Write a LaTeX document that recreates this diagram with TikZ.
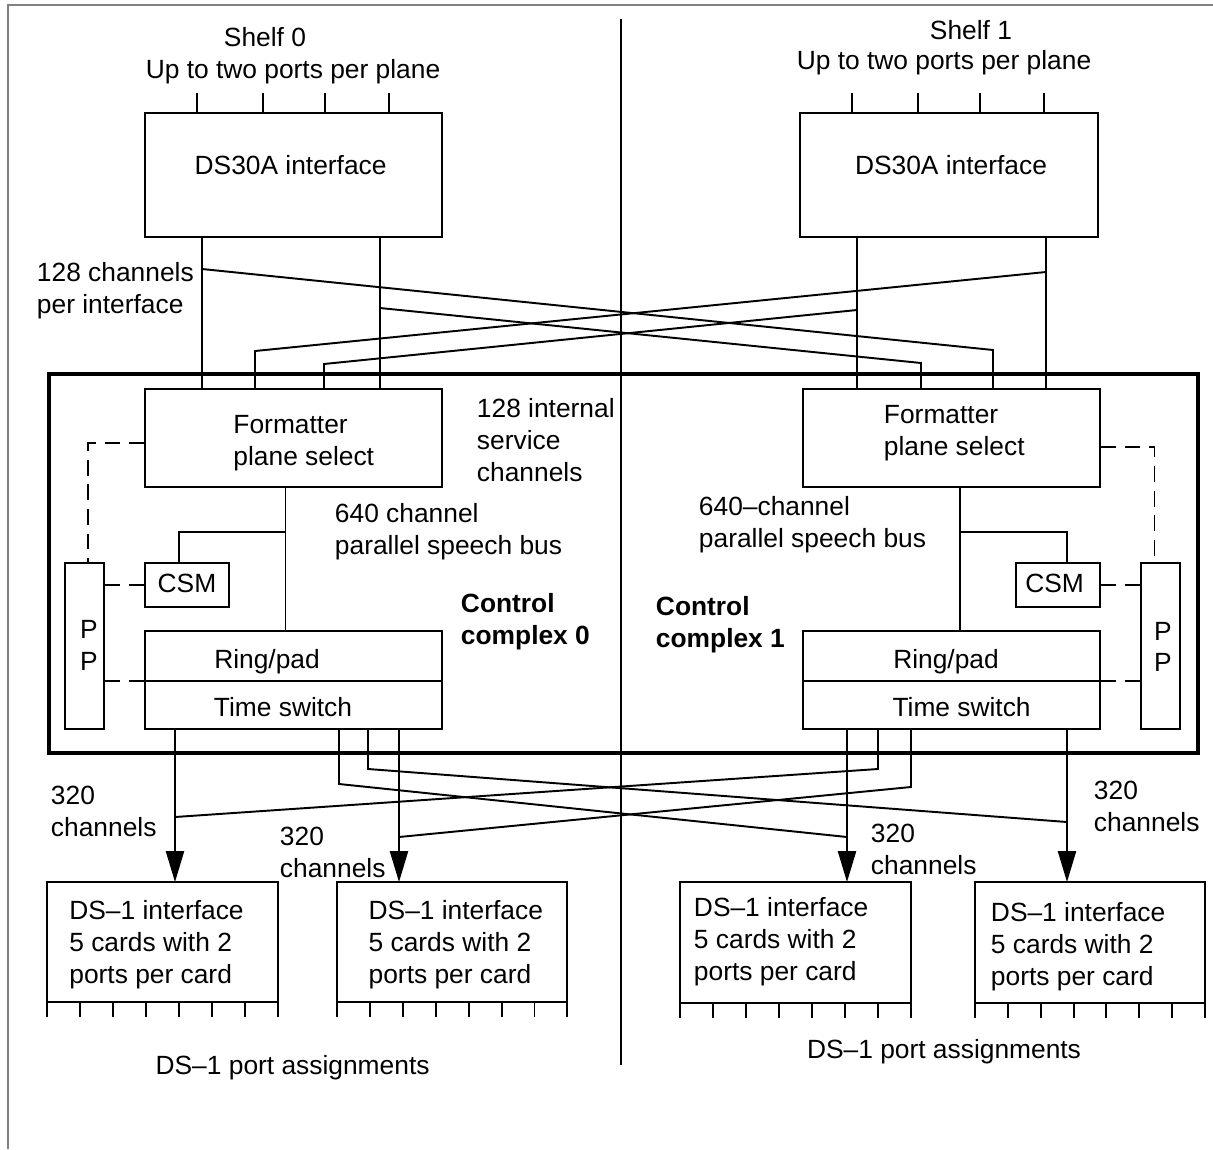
\documentclass[tikz,border=0pt]{standalone}
\usepackage{fontspec}
\setmainfont{Liberation Sans}
\usetikzlibrary{arrows.meta,calc}

\begin{document}
\begin{tikzpicture}[x=0.02cm,y=-0.02cm,line width=1.1pt,
  font=\fontsize{15}{18.2}\selectfont,
  box/.style={draw,inner sep=0pt,outer sep=0pt},
  txt/.style={inner sep=0pt,align=left},
  boldtxt/.style={txt,font=\fontsize{15}{18.2}\selectfont\bfseries},
  dashline/.style={dash pattern=on 9pt off 5pt},
  >={Triangle[length=17.6pt,width=10.3pt]}]

\useasboundingbox (0,0) rectangle (1213,1149);
\draw[line width=0.6pt,gray] (8,1149) -- (8,5) -- (1213,5);
\draw (621,19) -- (621,1065);

%%% shelf 0
\node[box][minimum width=5.94cm,minimum height=2.48cm] (DS0) at (293.5,175) {};
\path (265,37) node[txt] (SH0) {Shelf 0};
\path (293,72) node[txt] (UP0) {Up to two ports per plane};
\path (290.6,165) node[txt] (DST0) {DS30A interface};
\foreach \d in {52,118,180,244} \draw (DS0.north west) ++(\d,0) -- ++(0,-20);
\path (36,291) node[txt,anchor=west] (CH128) {128 channels\\per interface};

%%% shelf 1
\node[box][minimum width=5.96cm,minimum height=2.48cm] (DS1) at (949,175) {};
\path (971,30) node[txt] (SH1) {Shelf 1};
\path (944,63) node[txt] (UP1) {Up to two ports per plane};
\path (951,165) node[txt] (DST1) {DS30A interface};
\foreach \d in {52,118,180,244} \draw (DS1.north west) ++(\d,0) -- ++(0,-20);

%%% control complex frame
\node[box,line width=2.2pt][minimum width=22.98cm,minimum height=7.58cm] (CC) at (623.5,563.5) {};

%%% control complex 0
\node[box][minimum width=5.94cm,minimum height=1.96cm] (FMT0) at (293.5,438) {};
\path (232.5,443) node[txt,anchor=west] (FMTT0) {Formatter\\plane select};
\node[box][minimum width=0.78cm,minimum height=3.32cm] (PP0) at (84.5,646) {};
\path (89,629) node[txt] (PPA0) {P};
\path (89,661) node[txt] (PPB0) {P};
\node[box][minimum width=1.68cm,minimum height=0.88cm] (CSM0) at (187,585) {};
\path (187,583) node[txt] (CSMT0) {CSM};
\node[box][minimum width=5.94cm,minimum height=1.0cm] (RING0) at (293.5,656) {};
\node[box][minimum width=5.94cm,minimum height=0.96cm] (TS0) at (293.5,705) {};
\path (267,662) node[txt] (RINGT0) {Ring/pad};
\path (283,707) node[txt] (TST0) {Time switch};
\path (476,440) node[txt,anchor=west] (INT0) {128 internal\\service\\channels};
\path (334,532) node[txt,anchor=west] (BUS0) {640 channel\\parallel speech bus};
\path (460,622) node[boldtxt,anchor=west] (CCT0) {Control\\complex 0};

\coordinate (b0) at (285.5,532);
\coordinate (c0) at (179,563);
\draw (FMT0.south -| b0) -- (RING0.north -| b0);
\draw (b0) -| (c0);
\draw[dashline] (FMT0.west) ++(0,5) -| ([xshift=0.07cm]PP0.north);
\draw[dashline] (CSM0.west) -- (CSM0.west -| PP0.east);
\draw[dashline] (TS0.north west) -- (TS0.north west -| PP0.east);

%%% control complex 1
\node[box][minimum width=5.94cm,minimum height=1.96cm] (FMT1) at (951.5,438) {};
\path (883,433) node[txt,anchor=west] (FMTT1) {Formatter\\plane select};
\node[box][minimum width=0.78cm,minimum height=3.32cm] (PP1) at (1160.5,646) {};
\path (1163,631) node[txt] (PPA1) {P};
\path (1163,662) node[txt] (PPB1) {P};
\node[box][minimum width=1.69cm,minimum height=0.88cm] (CSM1) at (1057.8,585) {};
\path (1054.6,583) node[txt] (CSMT1) {CSM};
\node[box][minimum width=5.94cm,minimum height=1.0cm] (RING1) at (951.5,656) {};
\node[box][minimum width=5.94cm,minimum height=0.96cm] (TS1) at (951.5,705) {};
\path (946,662) node[txt] (RINGT1) {Ring/pad};
\path (961.6,707) node[txt] (TST1) {Time switch};
\path (698,524.5) node[txt,anchor=west] (BUS1) {640–channel\\parallel speech bus};
\path (655,625) node[boldtxt,anchor=west] (CCT1) {Control\\complex 1};

\coordinate (b1) at (959.7,532);
\coordinate (c1) at (1067,563);
\draw (FMT1.south -| b1) -- (RING1.north -| b1);
\draw (b1) -| (c1);
\draw[dashline] (FMT1.east) ++(0,9) -| ([xshift=-0.12cm]PP1.north);
\draw[dashline] (CSM1.east) -- (CSM1.east -| PP1.west);
\draw[dashline] (TS1.north east) -- (TS1.north east -| PP1.west);

%%% shelf to formatter links
\coordinate (u0a) at (202,269);
\coordinate (u0b) at (380,308);
\coordinate (u1a) at (857,310);
\coordinate (u1b) at (1046,272);
\coordinate (k0a) at (255,351);
\coordinate (k0b) at (324,364);
\coordinate (k1a) at (921,363);
\coordinate (k1b) at (993,350);
\draw (DS0.south -| u0a) -- (FMT0.north -| u0a);
\draw (DS0.south -| u0b) -- (FMT0.north -| u0b);
\draw (DS1.south -| u1a) -- (FMT1.north -| u1a);
\draw (DS1.south -| u1b) -- (FMT1.north -| u1b);
\draw (u0a) -- (k1b) -- (FMT1.north -| k1b);
\draw (u0b) -- (k1a) -- (FMT1.north -| k1a);
\draw (u1b) -- (k0a) -- (FMT0.north -| k0a);
\draw (u1a) -- (k0b) -- (FMT0.north -| k0b);

%%% DS-1 interfaces
\node[box][minimum width=4.62cm,minimum height=2.4cm] (DSA) at (162.5,942) {};
\node[box][minimum width=4.61cm,minimum height=2.4cm] (DSB) at (452.2,942) {};
\node[box][minimum width=4.62cm,minimum height=2.42cm] (DSC) at (795.5,942.5) {};
\node[box][minimum width=4.6cm,minimum height=2.42cm] (DSD) at (1090,942.5) {};
\path (68.4,945) node[txt,anchor=west] (DSAT) {DS–1 interface\\5 cards with 2\\ports per card};
\path (367.7,945) node[txt,anchor=west] (DSBT) {DS–1 interface\\5 cards with 2\\ports per card};
\path (693,942) node[txt,anchor=west] (DSCT) {DS–1 interface\\5 cards with 2\\ports per card};
\path (990,947) node[txt,anchor=west] (DSDT) {DS–1 interface\\5 cards with 2\\ports per card};
\foreach \b in {DSA,DSB,DSC,DSD}
  \foreach \i in {0,...,7}
    \draw ($(\b.south west)!\i/7!(\b.south east)$) -- ++(0,15);
\path (292.6,1068) node[txt] (PA0) {DS–1 port assignments};
\path (944,1052) node[txt] (PA1) {DS–1 port assignments};

%%% time switch to DS-1 links
\coordinate (t0a) at (175,0);
\coordinate (t0d) at (399,0);
\coordinate (t1a) at (847,0);
\coordinate (t1d) at (1067,0);
\coordinate (m0b) at (339,784);
\coordinate (m0c) at (368,769);
\coordinate (m1b) at (878,769);
\coordinate (m1c) at (911,787);
\coordinate (j0a) at (175,817);
\coordinate (j0d) at (399,837);
\coordinate (j1a) at (847,837);
\coordinate (j1d) at (1067,822);
\draw[->] (TS0.south -| t0a) -- (DSA.north -| t0a);
\draw[->] (TS0.south -| t0d) -- (DSB.north -| t0d);
\draw[->] (TS1.south -| t1a) -- (DSC.north -| t1a);
\draw[->] (TS1.south -| t1d) -- (DSD.north -| t1d);
\draw (TS0.south -| m0b) -- (m0b) -- (j1a);
\draw (TS0.south -| m0c) -- (m0c) -- (j1d);
\draw (TS1.south -| m1b) -- (m1b) -- (j0a);
\draw (TS1.south -| m1c) -- (m1c) -- (j0d);
\path (50,811) node[txt,anchor=west] (CHA) {320\\channels};
\path (279,852) node[txt,anchor=west] (CHB) {320\\channels};
\path (870,849) node[txt,anchor=west] (CHC) {320\\channels};
\path (1093,806) node[txt,anchor=west] (CHD) {320\\channels};
\end{tikzpicture}
\end{document}
